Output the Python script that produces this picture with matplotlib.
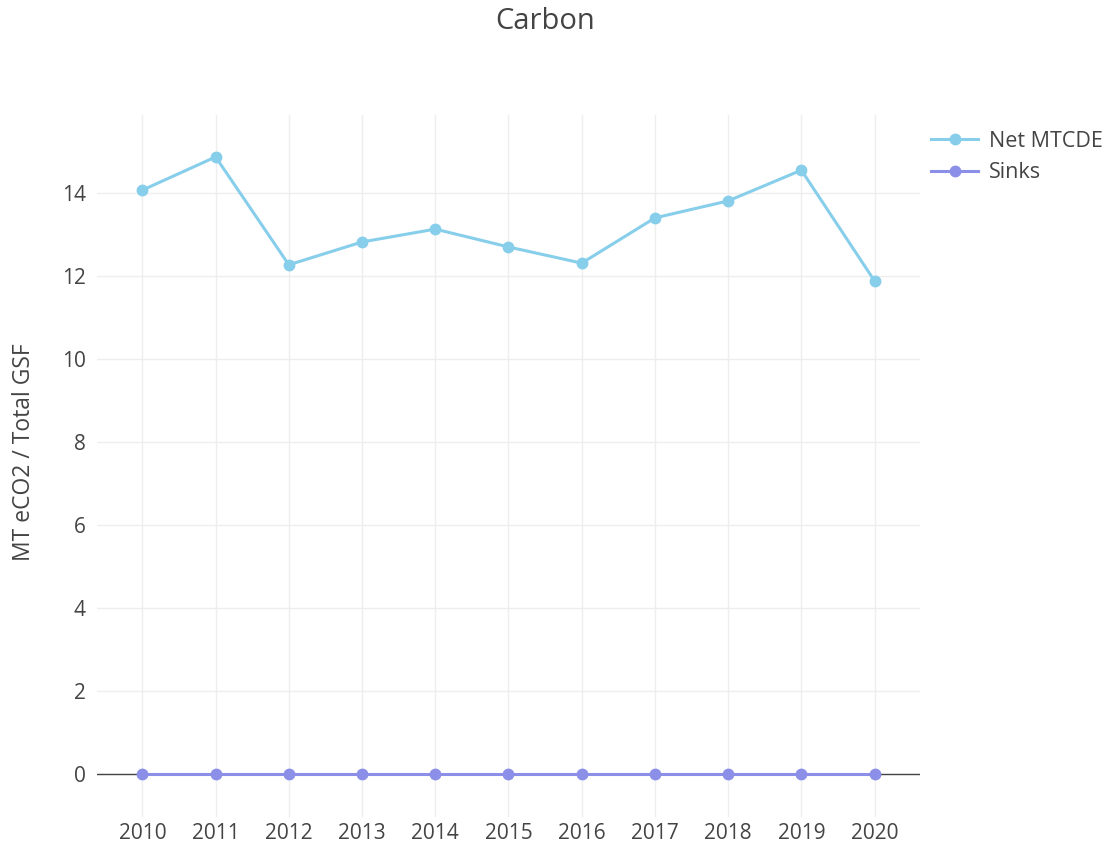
import matplotlib.pyplot as plt
import numpy as np

# --- data ---
years = [2010, 2011, 2012, 2013, 2014, 2015, 2016, 2017, 2018, 2019, 2020]
net_mtcde = [14.07, 14.87, 12.27, 12.82, 13.13, 12.70, 12.31, 13.40, 13.81, 14.55, 11.88]
sinks = [0, 0, 0, 0, 0, 0, 0, 0, 0, 0, 0]
y_ticks = [0, 2, 4, 6, 8, 10, 12, 14]

plt.rcParams['font.family'] = ['Open Sans', 'DejaVu Sans']
text_col = '#444444'

fig = plt.figure(figsize=(11.06, 8.42), dpi=100)
ax = fig.add_axes([0.0877, 0.0297, 0.7441, 0.8337])

ax.plot(years, net_mtcde, color='#87ceeb', lw=2.2, marker='o', ms=7.5,
        label='Net MTCDE', zorder=3)
ax.plot(years, sinks, color='#8b8fe8', lw=2.2, marker='o', ms=7.5,
        label='Sinks', zorder=4)
ax.axhline(0, color=text_col, lw=1, zorder=2)

ax.set_xlim(2009.38, 2020.62)
ax.set_ylim(-1.04, 15.88)
ax.set_xticks(years)
ax.set_yticks(y_ticks)
ax.grid(True, color='#eeeeee', lw=1)
ax.set_axisbelow(True)
for s in ax.spines.values():
    s.set_visible(False)
ax.tick_params(length=0, labelsize=15, colors=text_col, pad=8)
ax.tick_params(axis='x', pad=4)

ax.set_ylabel('MT eCO2 / Total GSF', fontsize=16.5, color=text_col)
ax.yaxis.set_label_coords(-0.074, 0.52)
fig.text(0.493, 0.974, 'Carbon', ha='center', va='center', fontsize=21, color=text_col)

leg = ax.legend(loc='upper left', bbox_to_anchor=(1.003, 0.99), frameon=False,
                fontsize=15.5, handlelength=2.2, handletextpad=0.5,
                labelspacing=0.5, borderaxespad=0.0)
for t in leg.get_texts():
    t.set_color(text_col)

fig.savefig('out.png', dpi=100)
